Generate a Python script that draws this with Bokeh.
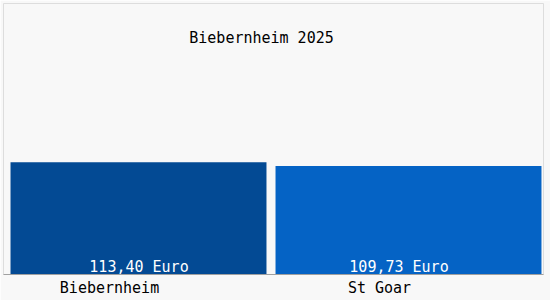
from bokeh.plotting import figure
from bokeh.models import (ColumnDataSource, Range1d, LabelSet, Label,
                          LinearAxis, FixedTicker)
from bokeh.core.properties import value
from bokeh.embed import file_html
from bokeh.resources import INLINE

# ---- data ----
categories = ["Biebernheim", "St Goar"]
values = [113.40, 109.73]
value_labels = ["113,40 Euro", "109,73 Euro"]
title_text = "Biebernheim 2025"

# ---- styles ----
bar_colors = ["#034A94", "#0563C5"]
bar_widths = [0.948, 0.985]
value_dx = [0.5, -9.5]
label_shift = 0.1074  # category labels sit left of bar centres
FONT = "DejaVu Sans Mono"
BG = "#f8f8f8"

n = len(categories)
idx = list(range(n))
src = ColumnDataSource(dict(
    x=idx, cat=categories, val=values, lab=value_labels, color=bar_colors,
    w=bar_widths, vdx=value_dx, zero=[0] * n,
))

p = figure(width=550, height=300, output_backend="svg", toolbar_location=None,
           x_range=Range1d(-0.5, n - 0.5), y_range=Range1d(0, 274),
           min_border_left=3, min_border_right=7, min_border_top=3, min_border_bottom=26)
p.background_fill_color = BG
p.border_fill_color = BG
p.outline_line_color = "#dddddd"
p.grid.visible = False
p.yaxis.visible = False
p.xaxis.visible = False

p.vbar(x="x", top="val", bottom=0, width="w", color="color", source=src, line_width=0)

# category axis (labels slightly left of the bars)
p.extra_x_ranges = {"lab": Range1d(-0.5 + label_shift, n - 0.5 + label_shift)}
ax = LinearAxis(x_range_name="lab", ticker=FixedTicker(ticks=idx),
                major_label_overrides={i: c for i, c in zip(idx, categories)})
ax.axis_line_color = "#a0a0a0"
ax.major_tick_line_color = None
ax.minor_tick_line_color = None
ax.major_tick_out = 0
ax.major_tick_in = 0
ax.minor_tick_out = 0
ax.minor_tick_in = 0
ax.major_label_standoff = 4
ax.major_label_text_font = FONT
ax.major_label_text_font_size = "15px"
ax.major_label_text_color = "black"
p.add_layout(ax, "below")

p.add_layout(LabelSet(x="x", y="zero", text="lab", source=src, x_offset="vdx", y_offset=2.5,
                      text_align="center", text_baseline="alphabetic", text_color="white",
                      text_font=value(FONT), text_font_size=value("15px")))
p.add_layout(Label(x=258, y=239.5, x_units="screen", y_units="data", text=title_text,
                   text_align="center", text_baseline="alphabetic", text_color="black",
                   text_font=FONT, text_font_size="15px"))

open("out.html", "w").write(file_html(p, INLINE))
